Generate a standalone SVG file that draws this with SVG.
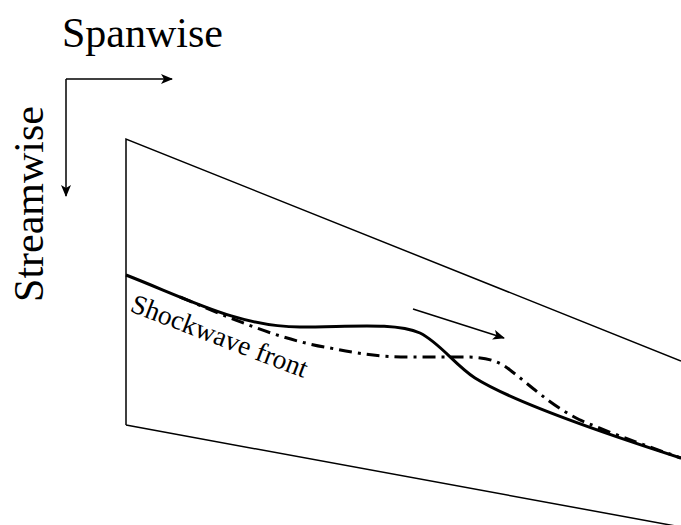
<svg xmlns="http://www.w3.org/2000/svg" width="681" height="525" viewBox="0 0 681 525">
<style>
.thin{fill:none;stroke:#000;stroke-width:1.5}
.thick{fill:none;stroke:#000;stroke-width:3}
.dd{fill:none;stroke:#000;stroke-width:3;stroke-dasharray:13 6 3 6}
.lbl{font-family:"Liberation Serif","Times New Roman",Times,serif;fill:#000}
</style>
<defs>
<marker id="ah" viewBox="0 0 12 10" refX="11" refY="5" markerWidth="12" markerHeight="10" markerUnits="userSpaceOnUse" orient="auto">
<path d="M0,0 L12,5 L0,10 L3,5 Z" fill="#000"/>
</marker>
</defs>
<rect width="681" height="525" fill="#fff"/>
<g id="spanwise-label"><text class="lbl" x="62" y="47" font-size="42">Spanwise</text></g>
<g id="streamwise-label"><text class="lbl" transform="translate(43,204) rotate(-90)" text-anchor="middle" font-size="42">Streamwise</text></g>
<g id="plane"><path class="thin" d="M126,425 L126,139 L681,361 M126,425 L681,527"/></g>
<g id="shockwave-front"><path class="thick" d="M126,275 C190,300 240,327 300,327 C350,327 395,322 420,333 C440,343 455,365 475,378 C510,400 600,432 681,458"/></g>
<g id="perturbed-front"><path class="dd" d="M180,297 C230,318 280,340 330,348 C360,354 380,357 410,357 L470,357 C490,358 500,362 510,370 C530,385 550,405 580,420 C620,437 650,447 681,458"/></g>
<g id="shockwave-label"><text class="lbl" transform="translate(129,311) rotate(21)" font-size="27.5">Shockwave front</text></g>
<g id="connectors">
<path class="thin" d="M66,79 L172,79" marker-end="url(#ah)"/>
<path class="thin" d="M66,79 L66,196" marker-end="url(#ah)"/>
<path class="thin" d="M413,309 L504,338" marker-end="url(#ah)"/>
</g>
</svg>
